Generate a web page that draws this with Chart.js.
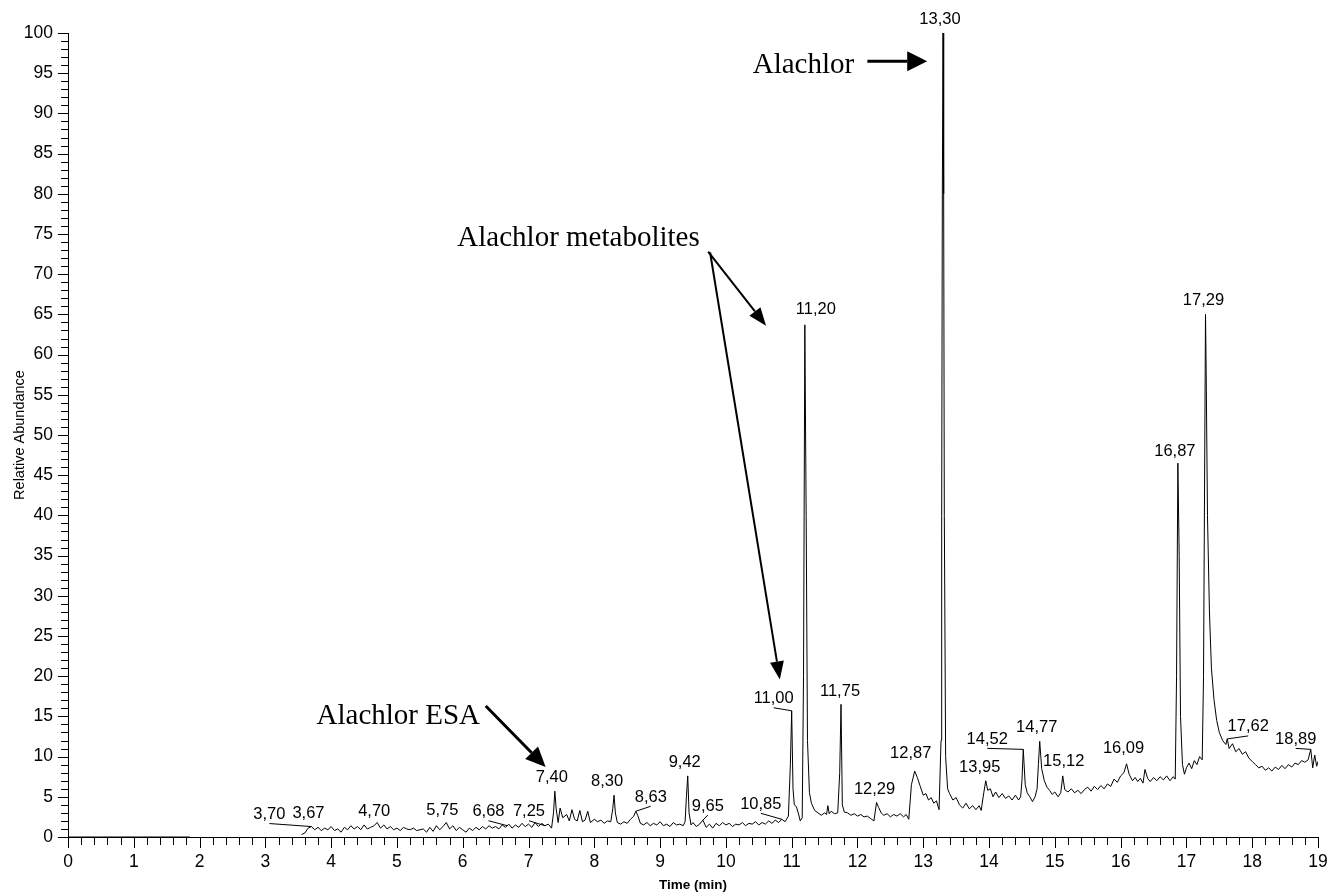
<!DOCTYPE html>
<html>
<head>
<meta charset="utf-8">
<title>Alachlor chromatogram</title>
<script src="https://cdn.jsdelivr.net/npm/chart.js@4.4.0/dist/chart.umd.min.js"></script>
<style>
  html, body { margin: 0; padding: 0; background: #fff; }
  #wrap { width: 1328px; height: 894px; position: relative; }
</style>
</head>
<body>
<div id="wrap"><canvas id="chromatogramChart"></canvas></div>
<script>
// Trace: retention time (min) and relative abundance (%)
const times = [
    0, 1.85, 1.9,
    3.55, 3.60, 3.65, 3.70, 3.75, 3.80, 3.85, 3.90, 3.95, 4.00,
    4.05, 4.10, 4.15, 4.20, 4.25, 4.30, 4.35, 4.40, 4.45, 4.50,
    4.55, 4.60, 4.65, 4.70, 4.75, 4.80, 4.85, 4.90, 4.95, 5.00,
    5.05, 5.10, 5.15, 5.20, 5.25, 5.30, 5.35, 5.40, 5.45, 5.50,
    5.55, 5.60, 5.65, 5.70, 5.75, 5.80, 5.85, 5.90, 5.95, 6.00,
    6.05, 6.10, 6.15, 6.20, 6.25, 6.30, 6.35, 6.40, 6.45, 6.50,
    6.55, 6.60, 6.65, 6.70, 6.75, 6.80, 6.85, 6.90, 6.95, 7.00,
    7.05, 7.10, 7.15, 7.20, 7.25, 7.30, 7.35, 7.38, 7.40, 7.42,
    7.45, 7.48, 7.52, 7.58, 7.62, 7.66, 7.70, 7.74, 7.78, 7.82,
    7.86, 7.90, 7.94, 8.00, 8.05, 8.10, 8.15, 8.20, 8.25, 8.28,
    8.30, 8.32, 8.35, 8.40, 8.45, 8.50, 8.55, 8.60, 8.63, 8.66,
    8.70, 8.75, 8.80, 8.85, 8.90, 8.95, 9.00, 9.05, 9.10, 9.15,
    9.20, 9.25, 9.30, 9.35, 9.38, 9.40, 9.42, 9.44, 9.47, 9.50,
    9.55, 9.60, 9.65, 9.70, 9.75, 9.80, 9.85, 9.90, 9.95, 10.00,
    10.05, 10.10, 10.15, 10.20, 10.25, 10.30, 10.35, 10.40, 10.45, 10.50,
    10.55, 10.60, 10.65, 10.70, 10.75, 10.80, 10.85, 10.90, 10.95, 10.98,
    11.00, 11.02, 11.04, 11.07, 11.10, 11.13, 11.16, 11.18, 11.20, 11.22,
    11.24, 11.27, 11.30, 11.35, 11.40, 11.45, 11.50, 11.53, 11.55, 11.57,
    11.60, 11.65, 11.70, 11.73, 11.75, 11.77, 11.80, 11.85, 11.90, 11.95,
    12.00, 12.05, 12.10, 12.15, 12.20, 12.25, 12.29, 12.32, 12.36, 12.40,
    12.45, 12.50, 12.55, 12.60, 12.65, 12.70, 12.74, 12.78, 12.82, 12.87,
    12.91, 12.95, 13.00, 13.04, 13.08, 13.12, 13.16, 13.20, 13.24, 13.27,
    13.28, 13.29, 13.30, 13.31, 13.32, 13.34, 13.37, 13.40, 13.45, 13.50,
    13.55, 13.60, 13.65, 13.70, 13.75, 13.80, 13.85, 13.88, 13.92, 13.95,
    13.98, 14.02, 14.06, 14.10, 14.15, 14.20, 14.25, 14.30, 14.35, 14.40,
    14.45, 14.48, 14.50, 14.52, 14.55, 14.58, 14.62, 14.66, 14.70, 14.73,
    14.75, 14.77, 14.80, 14.84, 14.88, 14.92, 14.96, 15.00, 15.05, 15.09,
    15.12, 15.15, 15.20, 15.25, 15.30, 15.35, 15.40, 15.45, 15.50, 15.55,
    15.60, 15.65, 15.70, 15.75, 15.80, 15.85, 15.90, 15.95, 16.00, 16.05,
    16.09, 16.13, 16.18, 16.22, 16.26, 16.30, 16.34, 16.37, 16.41, 16.45,
    16.50, 16.55, 16.60, 16.65, 16.70, 16.75, 16.80, 16.83, 16.85, 16.87,
    16.89, 16.91, 16.94, 16.97, 17.00, 17.04, 17.08, 17.12, 17.16, 17.20,
    17.24, 17.26, 17.28, 17.29, 17.30, 17.32, 17.35, 17.38, 17.42, 17.46,
    17.50, 17.55, 17.60, 17.62, 17.65, 17.70, 17.75, 17.80, 17.85, 17.90,
    17.95, 18.00, 18.05, 18.10, 18.15, 18.20, 18.25, 18.30, 18.35, 18.40,
    18.45, 18.50, 18.55, 18.60, 18.65, 18.70, 18.75, 18.80, 18.85, 18.89,
    18.92, 18.95, 18.98, 19.00
];
const abundance = [
    0, 0, null,
    0.3, 0.5, 1.1, 1.3, 0.9, 1.2, 0.8, 1.1, 0.9, 1.3,
    0.8, 1.0, 0.6, 1.2, 0.9, 1.4, 1.0, 1.3, 0.9, 1.5,
    1.0, 1.2, 1.4, 1.8, 1.1, 1.5, 1.0, 1.3, 0.9, 1.1,
    0.8, 1.2, 1.0, 0.9, 1.1, 0.8, 0.9, 1.0, 0.6, 1.2,
    0.7, 1.4, 0.9, 1.3, 1.8, 1.0, 1.4, 0.8, 1.2, 0.9,
    0.6, 1.1, 0.8, 1.2, 0.9, 1.3, 1.0, 1.4, 1.1, 1.3,
    1.0, 1.5, 1.2, 1.6, 1.1, 1.5, 1.2, 1.7, 1.3, 1.6,
    1.2, 1.8, 1.3, 1.7, 1.4, 1.6, 1.1, 3.0, 5.7, 3.5,
    1.8, 3.6, 2.4, 2.8, 2.0, 3.4, 2.2, 2.0, 3.3, 1.9,
    2.1, 3.2, 1.8, 2.2, 1.9, 2.1, 1.7, 2.0, 1.9, 3.5,
    5.2, 3.0, 1.8, 1.6, 1.9, 1.7, 2.2, 2.6, 3.2, 2.7,
    1.7, 1.5, 1.8, 1.4, 1.7, 1.5, 1.9, 1.4, 1.6, 1.3,
    1.8, 1.5, 1.6, 1.4, 1.9, 5.0, 7.6, 3.0, 1.5, 1.8,
    1.3, 1.6, 2.1, 1.2, 1.6, 1.1, 1.7, 1.4, 1.8, 1.5,
    1.7, 1.3, 1.6, 1.5, 1.8, 1.4, 1.7, 1.6, 1.9, 1.5,
    1.8, 1.6, 2.0, 1.7, 2.1, 1.8, 2.2, 1.9, 2.6, 9.0,
    15.7, 6.0, 4.0, 3.8, 3.0, 2.0, 2.4, 20.0, 63.7, 40.0,
    12.0, 5.5, 4.2, 3.3, 3.0, 2.7, 3.0, 2.8, 3.9, 2.9,
    3.2, 2.9, 3.0, 8.0, 16.5, 4.0, 3.1, 3.0, 2.7, 2.9,
    2.6, 2.8, 2.5, 2.6, 2.3, 2.0, 4.3, 3.7, 3.0, 2.7,
    2.9, 2.5, 2.8, 2.6, 2.9, 2.5, 2.8, 2.2, 6.5, 8.2,
    7.4, 6.4, 5.2, 5.4, 4.6, 4.9, 4.2, 4.5, 3.4, 12.0,
    40.0, 80.0, 100, 80.0, 40.0, 10.0, 6.0, 5.4, 4.6, 4.9,
    4.0, 3.6, 4.2, 3.5, 3.9, 3.4, 3.9, 3.3, 5.5, 7.0,
    5.8, 6.0, 5.0, 5.6, 4.9, 5.4, 4.8, 5.1, 4.6, 5.2,
    4.6, 5.0, 7.0, 10.9, 6.5, 5.5, 5.0, 4.4, 5.0, 6.0,
    9.0, 11.9, 8.5, 7.0, 6.2, 5.8, 5.3, 5.6, 5.0, 5.5,
    7.6, 5.9, 5.6, 6.0, 5.5, 5.8, 5.4, 5.9, 6.2, 5.7,
    6.3, 5.9, 6.4, 6.0, 6.6, 6.3, 7.2, 6.8, 7.6, 8.0,
    9.1, 7.8, 7.0, 7.4, 6.9, 7.3, 6.7, 8.4, 7.3, 6.9,
    7.4, 7.0, 7.5, 7.1, 7.6, 7.0, 7.5, 7.2, 20.0, 46.5,
    35.0, 15.0, 9.0, 7.8, 8.6, 9.2, 8.5, 9.5, 9.0, 10.0,
    9.6, 20.0, 50.0, 65.0, 58.0, 40.0, 28.0, 21.0, 17.0, 14.5,
    13.0, 12.0, 11.5, 12.2, 11.0, 11.6, 10.6, 11.0, 10.3, 10.6,
    9.8, 9.4, 9.0, 8.6, 8.8, 8.3, 8.6, 8.2, 8.7, 8.4,
    8.9, 8.5, 9.0, 8.7, 9.2, 9.0, 9.5, 9.3, 9.6, 10.9,
    8.6, 10.2, 8.8, 9.4
];

// Labelled peaks (retention time as printed, anchor on the trace)
const peakLabels = ['3,70', '3,67', '4,70', '5,75', '6,68', '7,25', '7,40', '8,30', '8,63', '9,42',
    '9,65', '10,85', '11,00', '11,20', '11,75', '12,29', '12,87', '13,30', '13,95', '14,52',
    '14,77', '15,12', '16,09', '16,87', '17,29', '17,62', '18,89'];
const peakTimes = [3.70, 3.67, 4.70, 5.75, 6.68, 7.25, 7.40, 8.30, 8.63, 9.42,
    9.65, 10.85, 11.00, 11.20, 11.75, 12.29, 12.87, 13.30, 13.95, 14.52,
    14.77, 15.12, 16.09, 16.87, 17.29, 17.62, 18.89];
const peakValues = [1.3, 1.2, 1.8, 1.8, 1.4, 1.4, 5.7, 5.2, 3.2, 7.6,
    2.1, 2.2, 15.7, 63.7, 16.5, 4.3, 8.2, 100, 7.0, 10.9,
    11.9, 7.6, 9.1, 46.5, 65.0, 12.2, 10.9];

// Axis tick labels
const xMajorTicks = [0, 1, 2, 3, 4, 5, 6, 7, 8, 9, 10, 11, 12, 13, 14, 15, 16, 17, 18, 19];
const yMajorTicks = [0, 5, 10, 15, 20, 25, 30, 35, 40, 45, 50, 55, 60, 65, 70, 75, 80, 85, 90, 95, 100];

// Label placement (pixel offset of label centre from its peak) and leader lines
const labelOffsets = [[-42, -12], [-1, -14], [-3, -11], [-4, -12], [-19, -14], [-16, -14], [-3, -14], [-7, -14], [15, -14], [-3, -13],
    [5, -14], [-21, -15], [-18, -12], [11, -15], [-1, -13], [-2, -13], [-4, -18], [-3, -14], [-6, -13], [-36, -10],
    [-3, -14], [1, -14], [-3, -15], [-3, -12], [-2, -14], [21, -12], [-15, -10]];
const hasLeader = [1, 0, 0, 0, 1, 1, 0, 0, 1, 0, 1, 1, 1, 0, 0, 0, 0, 0, 0, 1, 0, 0, 0, 0, 0, 1, 1];

// Callout texts and arrows, in data coordinates
const callouts = [
    { text: 'Alachlor', x: 11.95, y: 96.0, align: 'right' },
    { text: 'Alachlor metabolites', x: 7.76, y: 74.5, align: 'center' },
    { text: 'Alachlor ESA', x: 5.02, y: 15.0, align: 'center' }
];
const arrows = [
    { from: [12.15, 96.5], to: [13.06, 96.5], width: 3, head: 20, half: 10 },
    { from: [9.73, 72.8], to: [10.61, 63.6], width: 2, head: 18, half: 7 },
    { from: [9.76, 72.7], to: [10.82, 19.6], width: 2, head: 18, half: 7 },
    { from: [6.35, 16.3], to: [7.26, 8.7], width: 3, head: 20, half: 9 }
];

const sansFont = '"Liberation Sans", Arial, sans-serif';
const serifFont = '"Liberation Serif", "Times New Roman", serif';

function isMajor(v, list) {
    return list.some(m => Math.abs(m - v) < 1e-6);
}

function drawArrow(ctx, x1, y1, x2, y2, a) {
    const ang = Math.atan2(y2 - y1, x2 - x1);
    const bx = x2 - a.head * Math.cos(ang);
    const by = y2 - a.head * Math.sin(ang);
    ctx.lineWidth = a.width;
    ctx.beginPath();
    ctx.moveTo(x1, y1);
    ctx.lineTo(bx, by);
    ctx.stroke();
    ctx.beginPath();
    ctx.moveTo(x2, y2);
    ctx.lineTo(bx + a.half * Math.sin(ang), by - a.half * Math.cos(ang));
    ctx.lineTo(bx - a.half * Math.sin(ang), by + a.half * Math.cos(ang));
    ctx.closePath();
    ctx.fill();
}

// Tick marks, peak labels and callouts
const decorPlugin = {
    id: 'chromDecor',
    afterDraw(chart) {
        const { ctx, chartArea, scales: { x, y } } = chart;
        ctx.save();
        ctx.strokeStyle = '#000';
        ctx.fillStyle = '#000';
        ctx.lineWidth = 1;

        x.ticks.forEach(t => {
            const px = Math.round(x.getPixelForValue(t.value)) + 0.5;
            const len = isMajor(t.value, xMajorTicks) ? 11 : 8;
            ctx.beginPath();
            ctx.moveTo(px, chartArea.bottom);
            ctx.lineTo(px, chartArea.bottom + len);
            ctx.stroke();
        });
        y.ticks.forEach(t => {
            const py = Math.round(y.getPixelForValue(t.value)) + 0.5;
            const len = isMajor(t.value, yMajorTicks) ? 10 : 7;
            ctx.beginPath();
            ctx.moveTo(chartArea.left, py);
            ctx.lineTo(chartArea.left - len, py);
            ctx.stroke();
        });

        ctx.font = '16.5px ' + sansFont;
        ctx.textAlign = 'center';
        ctx.textBaseline = 'middle';
        peakLabels.forEach((txt, i) => {
            const ax = x.getPixelForValue(peakTimes[i]);
            const ay = y.getPixelForValue(peakValues[i]);
            const lx = ax + labelOffsets[i][0];
            const ly = ay + labelOffsets[i][1];
            ctx.fillText(txt, lx, ly);
            if (hasLeader[i]) {
                ctx.beginPath();
                ctx.moveTo(ax, ay);
                ctx.lineTo(lx, ly + 9);
                ctx.stroke();
            }
        });

        ctx.font = '29px ' + serifFont;
        callouts.forEach(c => {
            ctx.textAlign = c.align;
            ctx.fillText(c.text, x.getPixelForValue(c.x), y.getPixelForValue(c.y));
        });
        arrows.forEach(a => {
            drawArrow(ctx,
                x.getPixelForValue(a.from[0]), y.getPixelForValue(a.from[1]),
                x.getPixelForValue(a.to[0]), y.getPixelForValue(a.to[1]), a);
        });
        ctx.restore();
    }
};

const data = {
    datasets: [{
        label: 'TIC',
        data: times.map((t, i) => ({ x: t, y: abundance[i] })),
        borderColor: '#000',
        borderWidth: 1,
        pointRadius: 0,
        tension: 0,
        spanGaps: false
    }]
};

const config = {
    type: 'line',
    data: data,
    options: {
        responsive: true,
        maintainAspectRatio: false,
        animation: false,
        layout: { padding: { top: 33, right: 10, left: 0, bottom: 0 } },
        plugins: {
            legend: { display: false },
            tooltip: { enabled: false }
        },
        scales: {
            x: {
                type: 'linear',
                min: 0,
                max: 19,
                grid: { display: false, drawTicks: false, tickLength: 0 },
                border: { display: true, color: '#000', width: 1 },
                ticks: {
                    stepSize: 0.2,
                    autoSkip: false,
                    maxRotation: 0,
                    padding: 15,
                    color: '#000',
                    font: { family: sansFont, size: 17.5 },
                    callback: v => isMajor(v, xMajorTicks) ? String(Math.round(v)) : ''
                },
                title: {
                    display: true,
                    text: 'Time (min)',
                    color: '#000',
                    font: { family: sansFont, size: 13.5, weight: 'bold' },
                    padding: { top: 0, bottom: 1 }
                },
                afterFit: s => { s.height = 57; s.paddingLeft = 0; s.paddingRight = 0; }
            },
            y: {
                type: 'linear',
                min: 0,
                max: 100,
                grid: { display: false, drawTicks: false, tickLength: 0 },
                border: { display: true, color: '#000', width: 1 },
                ticks: {
                    stepSize: 1,
                    autoSkip: false,
                    padding: 15,
                    color: '#000',
                    font: { family: sansFont, size: 17.5 },
                    callback: v => isMajor(v, yMajorTicks) ? String(Math.round(v)) : ''
                },
                title: {
                    display: true,
                    text: 'Relative Abundance',
                    color: '#000',
                    font: { family: sansFont, size: 14.5 },
                    padding: { top: 11, bottom: 0 }
                },
                afterFit: s => { s.width = 68; }
            }
        }
    },
    plugins: [decorPlugin]
};

new Chart(document.getElementById('chromatogramChart').getContext('2d'), config);
</script>
</body>
</html>
